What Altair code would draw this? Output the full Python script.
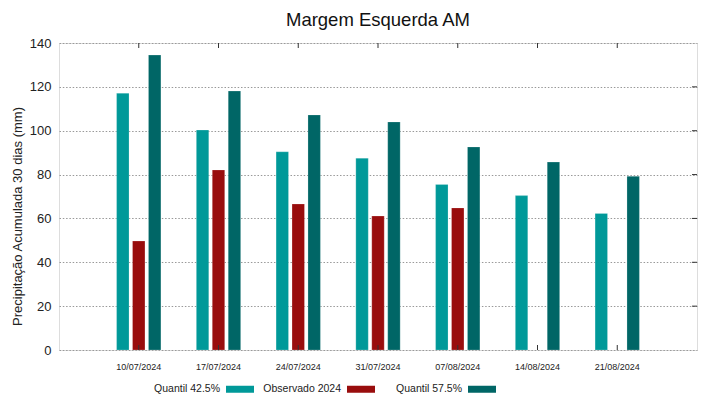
import altair as alt
import pandas as pd

dates = ["10/07/2024", "17/07/2024", "24/07/2024", "31/07/2024",
         "07/08/2024", "14/08/2024", "21/08/2024"]
series = ["Quantil 42.5%", "Observado 2024", "Quantil 57.5%"]
colors = ["#009999", "#990d0d", "#006666"]
q425 = [117.1, 100.3, 90.4, 87.5, 75.5, 70.4, 62.3]
obs = [49.7, 82.1, 66.6, 61.1, 64.8, None, None]
q575 = [134.5, 118.1, 107.2, 104.0, 92.6, 85.7, 79.2]
y_ticks = [0, 20, 40, 60, 80, 100, 120, 140]

rows = []
for name, vals in zip(series, [q425, obs, q575]):
    for d, v in zip(dates, vals):
        if v is not None:
            rows.append({"date": d, "series": name, "value": v})
df = pd.DataFrame(rows)
tick_df = pd.DataFrame({"date": dates})
ytick_df = pd.DataFrame({"v": y_ticks[1:-1]})

FONT = "Liberation Sans"
W, H = 638, 307

xscale = alt.Scale(domain=dates, paddingInner=0.444, paddingOuter=0.722)

bars = alt.Chart(df).mark_bar(stroke="#ffffff", strokeOpacity=0.35, strokeWidth=0.6).encode(
    x=alt.X("date:N", sort=dates, scale=xscale,
            axis=alt.Axis(title=None, labelAngle=0, labelFontSize=9, labelFont=FONT,
                          labelColor="#222", labelPadding=12, tickSize=0, domain=False, grid=False)),
    xOffset=alt.XOffset("series:N", sort=series,
                        scale=alt.Scale(domain=series, paddingInner=0.22, paddingOuter=0)),
    y=alt.Y("value:Q", scale=alt.Scale(domain=[0, 140], nice=False),
            axis=alt.Axis(values=y_ticks, title="Precipitação Acumulada 30 dias (mm)",
                          titleFontSize=13, titleFont=FONT, titleFontWeight="normal", titleColor="#222",
                          titleAngle=270, titleX=-42, titleY=173, titleAlign="center", titleBaseline="middle",
                          labelFontSize=13, labelFont=FONT, labelColor="#222", labelPadding=8,
                          tickSize=0, domain=False, grid=True, gridColor="#999999",
                          gridDash=[1.5, 1.8], gridWidth=1)),
    color=alt.Color("series:N", sort=series, scale=alt.Scale(domain=series, range=colors),
                    legend=alt.Legend(title=None, orient="none", direction="horizontal",
                                      legendX=167, legendY=332, gridAlign="all",
                                      symbolType="M-1,-0.25L1,-0.25L1,0.25L-1,0.25Z", symbolSize=784,
                                      symbolStrokeWidth=0, labelAlign="right", labelOffset={"expr": "-34"},
                                      labelFontSize=10.5, labelFont=FONT,
                                      labelColor="#222", columnPadding=9)),
)

top_ticks = alt.Chart(tick_df).mark_rule(color="#333").encode(
    x=alt.X("date:N", sort=dates, scale=xscale, bandPosition=0.5),
    y=alt.value(0), y2=alt.value(5))
bottom_ticks = alt.Chart(tick_df).mark_rule(color="#333").encode(
    x=alt.X("date:N", sort=dates, scale=xscale, bandPosition=0.5),
    y=alt.value(H - 5), y2=alt.value(H))
right_ticks = alt.Chart(ytick_df).mark_rule(color="#333").encode(
    y=alt.Y("v:Q", scale=alt.Scale(domain=[0, 140], nice=False)),
    x=alt.value(W - 5), x2=alt.value(W))

chart = alt.layer(bars, top_ticks, bottom_ticks, right_ticks).properties(
    width=W, height=H,
    title=alt.TitleParams("Margem Esquerda AM", fontSize=18.5, font=FONT, fontWeight="normal",
                          color="#111", anchor="middle", offset=8),
    autosize=alt.AutoSizeParams(type="none"),
    padding={"left": 51, "top": 35, "right": 14, "bottom": 60},
).configure_view(stroke="#333", strokeWidth=1).configure(background="white")

chart.save("out.html", embed_options={"renderer": "svg", "actions": False})
